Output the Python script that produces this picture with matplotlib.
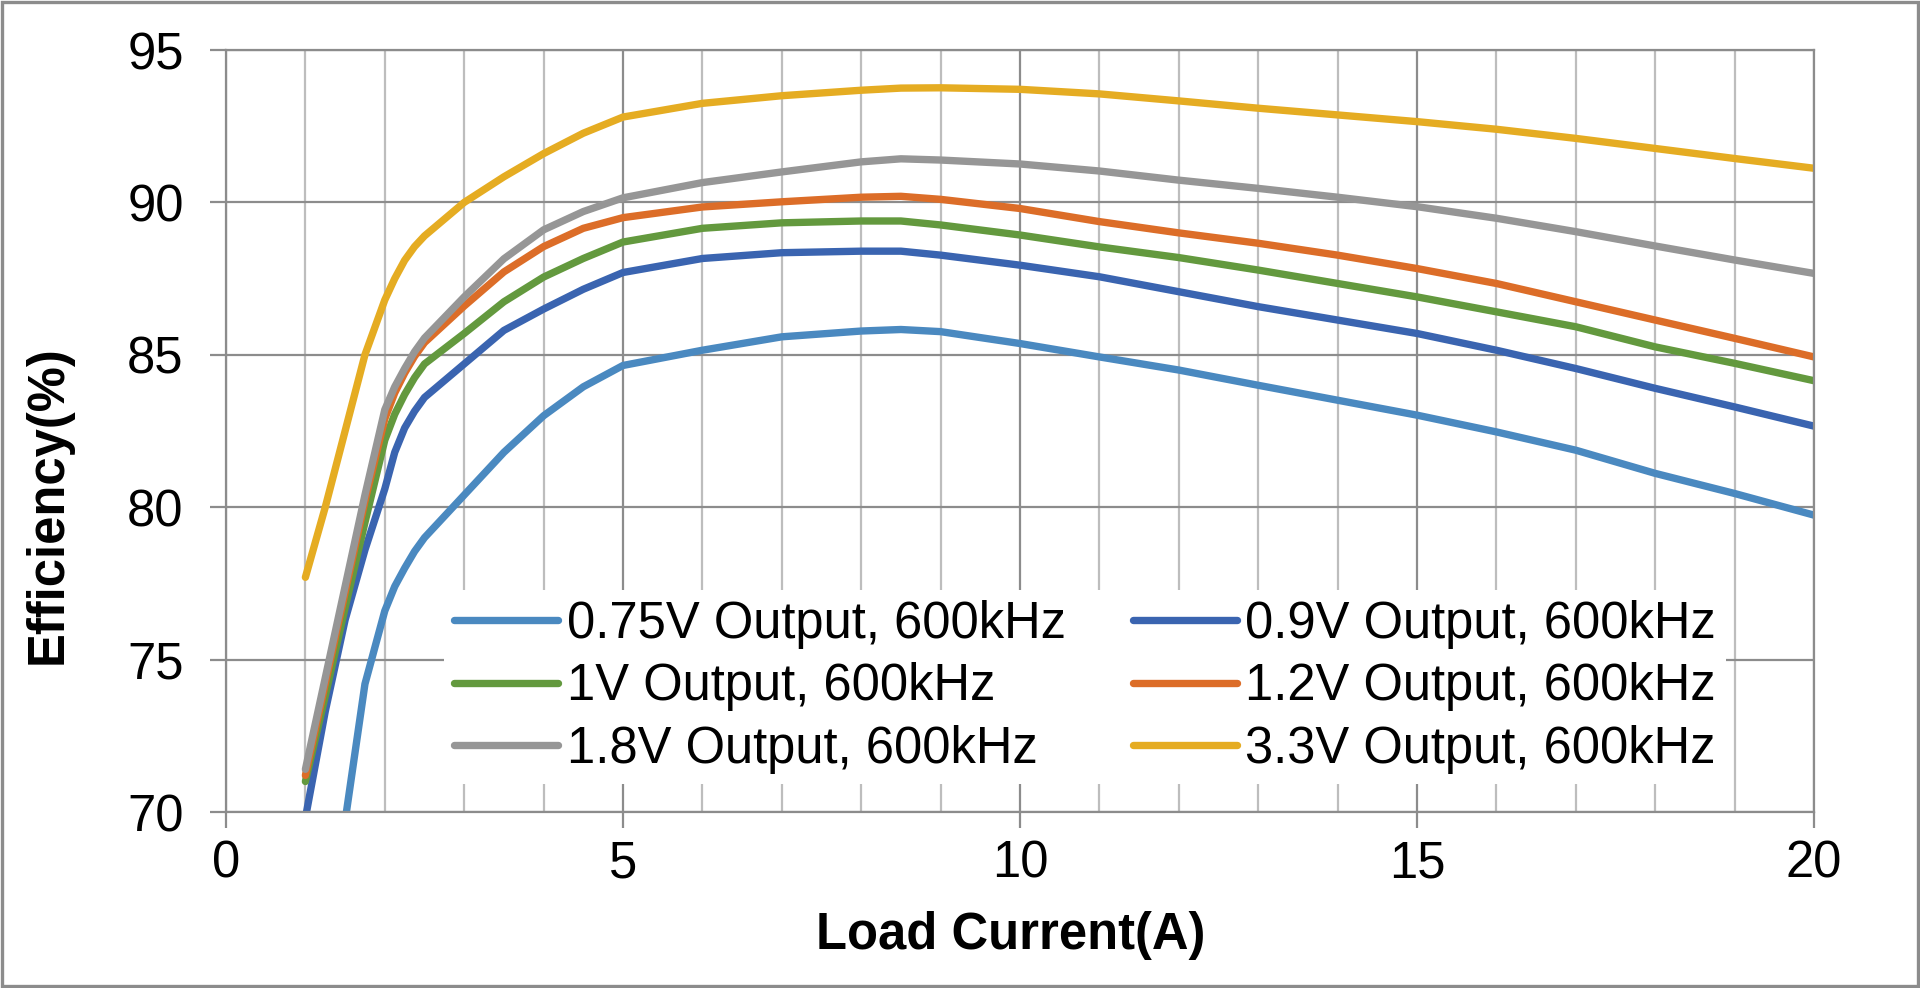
import numpy as np
import matplotlib
matplotlib.use("Agg")
import matplotlib.pyplot as plt
from matplotlib.patches import Rectangle

plt.rcParams['font.family'] = ['Liberation Sans', 'DejaVu Sans']

# load current (A)
current = [1, 1.25, 1.5, 1.75, 2, 2.125, 2.25, 2.375, 2.5, 3, 3.5, 4, 4.5, 5, 6, 7, 8,
           8.5, 9, 10, 11, 12, 13, 14, 15, 16, 17, 18, 19, 20]

# efficiency (%) per output voltage
eff_075 = [np.nan, np.nan, 69.7, 74.2, 76.6, 77.4, 78.0, 78.55, 79.0, 80.4, 81.8, 83.0,
           83.95, 84.65, 85.15, 85.59, 85.78, 85.83, 85.76, 85.37, 84.93, 84.5, 84.0,
           83.51, 83.02, 82.47, 81.87, 81.11, 80.45, 79.74]
eff_09 = [69.8, 73.3, 76.3, 78.6, 80.6, 81.8, 82.6, 83.15, 83.6, 84.7, 85.8, 86.5,
          87.15, 87.7, 88.16, 88.35, 88.4, 88.4, 88.27, 87.94, 87.56, 87.07, 86.58,
          86.14, 85.7, 85.15, 84.55, 83.9, 83.29, 82.66]
eff_10 = [71.0, 73.8, 76.7, 79.5, 82.2, 83.05, 83.7, 84.25, 84.7, 85.7, 86.74, 87.55,
          88.16, 88.7, 89.15, 89.33, 89.39, 89.39, 89.26, 88.93, 88.54, 88.19, 87.78,
          87.34, 86.9, 86.41, 85.92, 85.26, 84.72, 84.15]
eff_12 = [71.2, 74.2, 77.2, 80.2, 82.9, 83.75, 84.4, 84.95, 85.4, 86.6, 87.72, 88.55,
          89.15, 89.5, 89.85, 90.02, 90.17, 90.2, 90.1, 89.8, 89.37, 89.0, 88.66,
          88.27, 87.83, 87.34, 86.74, 86.14, 85.54, 84.93]
eff_18 = [71.4, 74.4, 77.4, 80.4, 83.2, 83.95, 84.55, 85.1, 85.55, 86.9, 88.15, 89.1,
          89.7, 90.15, 90.65, 91.0, 91.33, 91.43, 91.39, 91.26, 91.03, 90.73, 90.46,
          90.17, 89.86, 89.48, 89.04, 88.57, 88.11, 87.67]
eff_33 = [77.7, 80.0, 82.5, 85.0, 86.8, 87.5, 88.1, 88.55, 88.9, 90.0, 90.84, 91.6,
          92.27, 92.8, 93.25, 93.5, 93.68, 93.75, 93.76, 93.71, 93.56, 93.33, 93.09,
          92.87, 92.65, 92.4, 92.1, 91.77, 91.44, 91.12]

labels = ['0.75V Output, 600kHz', '0.9V Output, 600kHz', '1V Output, 600kHz',
          '1.2V Output, 600kHz', '1.8V Output, 600kHz', '3.3V Output, 600kHz']
colors = ['#4a89c0', '#3a64b0', '#63993e', '#dc6d28', '#969696', '#e5ac22']
series = [eff_075, eff_09, eff_10, eff_12, eff_18, eff_33]

fig = plt.figure(figsize=(19.2, 9.88), dpi=100)
ax = fig.add_axes([226/1920, 1-812/988, 1588/1920, 762/988])

lines = []
for y, c, lab in zip(series, colors, labels):
    ln, = ax.plot(current, y, color=c, lw=5.3, label=lab,
                  solid_capstyle='round', solid_joinstyle='round')
    lines.append(ln)

ax.set_xlim(0, 20)
ax.set_ylim(70, 95)
ax.set_xticks([0, 5, 10, 15, 20])
ax.set_xticks(np.arange(0, 21, 1), minor=True)
ax.set_yticks([70, 75, 80, 85, 90, 95])

major_c = '#8c8c8c'
minor_c = '#bdbdbd'
ax.grid(True, which='major', color=major_c, lw=1.6)
ax.grid(True, which='minor', axis='x', color=minor_c, lw=1.6)
ax.set_axisbelow(True)
for s in ax.spines.values():
    s.set_color(major_c)
    s.set_linewidth(1.6)

fs = 36.5
ax.tick_params(axis='both', which='major', direction='out', length=11.5, width=1.6,
               color=major_c, labelsize=fs, labelcolor='black')
ax.tick_params(axis='x', which='major', pad=8)
ax.tick_params(axis='y', which='major', pad=19)
ax.tick_params(which='minor', length=0)

fig.text(48/1920, 1-505/988, 'Efficiency(%)', rotation=90, ha='center', va='center',
         fontsize=fs, fontweight='bold')
fig.text(1011/1920, 1-949/988, 'Load Current(A)', ha='center', va='baseline',
         fontsize=fs, fontweight='bold')

# legend: two columns, row order 0.75/0.9, 1/1.2, 1.8/3.3
order = [0, 2, 4, 1, 3, 5]
leg = ax.legend([lines[i] for i in order], [labels[i] for i in order], ncol=2,
                loc='upper left', bbox_to_anchor=(444/1920, 1-590/988),
                bbox_transform=fig.transFigure, fontsize=fs, frameon=True,
                facecolor='white', edgecolor='none', framealpha=1, fancybox=False,
                handlelength=2.05, handletextpad=0.17, columnspacing=1.32,
                labelspacing=0.26, borderpad=0.2, borderaxespad=0)

# outer chart border
fig.patches.append(Rectangle((0.001, 0.002), 0.998, 0.996, transform=fig.transFigure,
                             fill=False, edgecolor=major_c, lw=2.4))

fig.savefig('out.png', dpi=100)
